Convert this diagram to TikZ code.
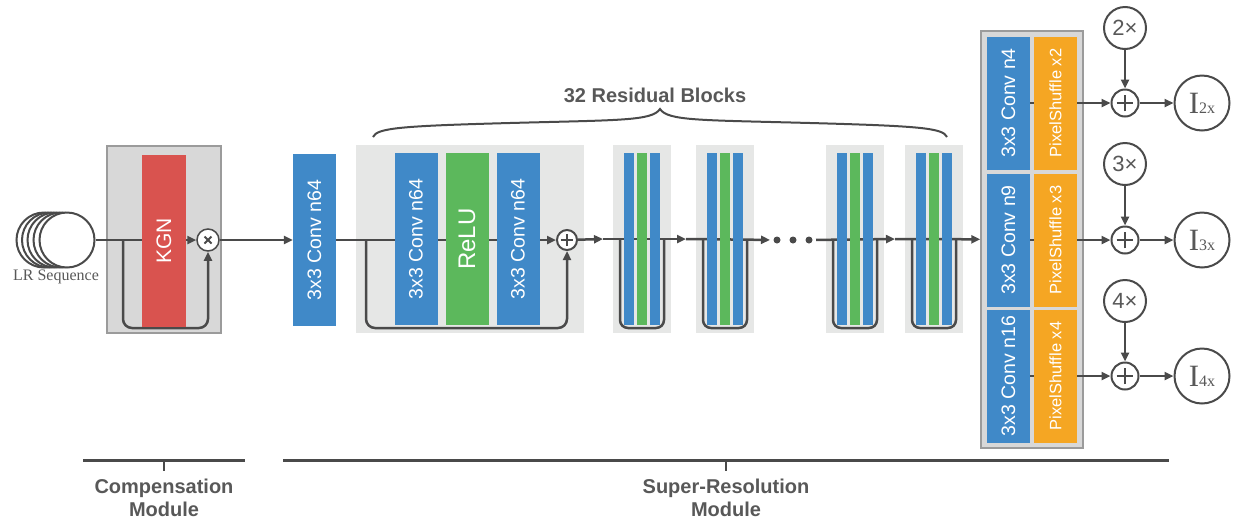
\documentclass[tikz,border=0pt]{standalone}
\usepackage{fontspec}
\setmainfont{Liberation Sans}
\newfontfamily\serifface{Liberation Serif}
\usetikzlibrary{arrows.meta}

\pgfdeclarelayer{bg}
\pgfdeclarelayer{wires}
\pgfsetlayers{bg,wires,main}

\definecolor{convblue}{RGB}{64,137,200}
\definecolor{relugreen}{RGB}{92,184,92}
\definecolor{kgnred}{RGB}{217,83,79}
\definecolor{shuforange}{RGB}{245,166,35}
\definecolor{resgray}{RGB}{230,231,230}
\definecolor{modgray}{RGB}{216,216,216}
\definecolor{modedge}{RGB}{155,155,155}
\definecolor{wire}{RGB}{74,74,74}
\definecolor{labelgray}{RGB}{88,88,88}

\tikzset{
  bar/.style={rectangle, inner sep=0pt, minimum width=172pt, minimum height=43pt,
    rotate=90, text=white, font=\fontsize{19.5}{21}\selectfont},
  conv/.style={bar, fill=convblue},
  relu/.style={bar, fill=relugreen, font=\fontsize{24}{26}\selectfont},
  kgn/.style={bar, fill=kgnred, minimum height=44pt, font=\fontsize{21}{22}\selectfont},
  upconv/.style={bar, fill=convblue, minimum width=133pt},
  shuffle/.style={bar, fill=shuforange, minimum width=133pt, font=\fontsize{16.5}{18}\selectfont},
  strip/.style={rectangle, inner sep=0pt, minimum width=10pt, minimum height=172pt},
  resbox/.style={rectangle, fill=resgray, inner sep=0pt, minimum height=188pt, outer xsep=10pt},
  modbox/.style={rectangle, fill=modgray, draw=modedge, line width=1.5pt, inner sep=0pt},
  seqc/.style={circle, draw=wire, fill=white, line width=2pt, minimum size=55pt, inner sep=0pt},
  opc/.style={circle, draw=wire, fill=white, line width=2pt, inner sep=0pt},
  addc/.style={opc, minimum size=2*#1, path picture={
    \draw[wire, line width=2pt]
      ([xshift=-0.62*#1]path picture bounding box.center) -- ([xshift=0.62*#1]path picture bounding box.center)
      ([yshift=-0.62*#1]path picture bounding box.center) -- ([yshift=0.62*#1]path picture bounding box.center);}},
  mulc/.style={opc, minimum size=22pt, line width=1.5pt, path picture={
    \draw[wire, line width=2pt]
      ([shift={(-3.5pt,-3.5pt)}]path picture bounding box.center) -- ([shift={(3.5pt,3.5pt)}]path picture bounding box.center)
      ([shift={(-3.5pt,3.5pt)}]path picture bounding box.center) -- ([shift={(3.5pt,-3.5pt)}]path picture bounding box.center);}},
  scalec/.style={opc, minimum size=42pt, text=labelgray, font=\fontsize{22}{22}\selectfont},
  outc/.style={opc, minimum size=55pt, text=labelgray},
  dot/.style={circle, fill=wire, inner sep=0pt, minimum size=7pt, outer sep=3.5pt},
  line/.style={draw=wire, line width=2.5pt},
  arr/.style={line, -{Triangle[length=9pt,width=8pt]}},
  modlabel/.style={text=labelgray, align=center, font=\bfseries\fontsize{20}{23}\selectfont},
}

\begin{document}
\begin{tikzpicture}[x=1pt, y=-1pt]
\useasboundingbox (0,0) rectangle (1236,523);

% backgrounds
\begin{pgfonlayer}{bg}
\node[modbox, minimum width=114pt, minimum height=187pt] (comp) at (164,239.5) {};
\node[resbox, minimum width=228pt] (rb) at (470,239) {};
\node[resbox, minimum width=58pt] (rA) at (642,239) {};
\node[resbox, minimum width=58pt] (rB) at (725,239) {};
\node[resbox, minimum width=58pt] (rC) at (855,239) {};
\node[resbox, minimum width=58pt] (rD) at (934,239) {};
\node[modbox, minimum width=102pt, minimum height=417pt] (up) at (1032,239.5) {};
\end{pgfonlayer}

% LR sequence
\node[seqc] (lr4) at (44,240) {};
\node[seqc] (lr3) at (49.5,240) {};
\node[seqc] (lr2) at (55,240) {};
\node[seqc] (lr1) at (61,240) {};
\node[seqc] (lr) at (67,240) {};
\node[text=labelgray, font=\serifface\fontsize{16}{16}\selectfont] (lrtext) at (56,277) {LR Sequence};

% compensation module
\node[kgn] (kgn) at (164,241) {KGN};
\node[mulc] (mul) at (208,240) {};
\coordinate (split0) at (123,240);
\coordinate (loop0) at (165,328);

% first conv and residual block
\node[conv] (c0) at (314.5,240) {3x3 Conv n64};
\node[conv] (c1) at (416,239) {3x3 Conv n64};
\node[relu] (relu) at (467,239) {ReLU};
\node[conv] (c2) at (518,239) {3x3 Conv n64};
\node[addc=10pt] (pl) at (567,240) {};
\coordinate (split1) at (366,240);
\coordinate (loop1) at (466,328);

% small residual blocks
\node[strip, fill=convblue] (a1) at (629,239) {};
\node[strip, fill=relugreen] (a2) at (642,239) {};
\node[strip, fill=convblue] (a3) at (655,239) {};
\coordinate (aL) at (620,240);
\coordinate (aB) at (664,328);

\node[strip, fill=convblue] (b1) at (712,239) {};
\node[strip, fill=relugreen] (b2) at (725,239) {};
\node[strip, fill=convblue] (b3) at (738,239) {};
\coordinate (bL) at (703,240);
\coordinate (bB) at (747,328);

\node[dot] (d1) at (777,240) {};
\node[dot] (d2) at (793,240) {};
\node[dot] (d3) at (809,240) {};

\node[strip, fill=convblue] (cc1) at (842,239) {};
\node[strip, fill=relugreen] (cc2) at (855,239) {};
\node[strip, fill=convblue] (cc3) at (868,239) {};
\coordinate (cL) at (833,240);
\coordinate (cB) at (877,328);

\node[strip, fill=convblue] (e1) at (921,239) {};
\node[strip, fill=relugreen] (e2) at (934,239) {};
\node[strip, fill=convblue] (e3) at (947,239) {};
\coordinate (dL) at (912,240);
\coordinate (dB) at (956,328);

% upsampling
\node[upconv] (u1) at (1008.5,103) {3x3 Conv n4};
\node[upconv] (u2) at (1008.5,240) {3x3 Conv n9};
\node[upconv] (u3) at (1008.5,376) {3x3 Conv n16};
\node[shuffle] (ps1) at (1055.5,103) {PixelShuffle x2};
\node[shuffle] (ps2) at (1055.5,240) {PixelShuffle x3};
\node[shuffle] (ps3) at (1055.5,376) {PixelShuffle x4};

\node[addc=13.5pt] (p1) at (1125,103) {};
\node[addc=13.5pt] (p2) at (1125,240) {};
\node[addc=13.5pt] (p3) at (1125,376) {};
\node[scalec] (m1) at (1125,28) {2×};
\node[scalec] (m2) at (1125,164) {3×};
\node[scalec] (m3) at (1125,301) {4×};
\node[outc] (o1) at (1202,103) {\serifface\fontsize{31}{31}\selectfont I{\fontsize{16}{16}\selectfont 2x}};
\node[outc] (o2) at (1202,240) {\serifface\fontsize{31}{31}\selectfont I{\fontsize{16}{16}\selectfont 3x}};
\node[outc] (o3) at (1202,376) {\serifface\fontsize{31}{31}\selectfont I{\fontsize{16}{16}\selectfont 4x}};

% connectors
\begin{pgfonlayer}{wires}
\draw[arr] (lr) -- (mul);
\draw[arr, rounded corners=9pt] (split0) |- (loop0) -| (mul);
\draw[arr] (mul) -- (c0);
\draw[arr] (c0) -- (pl);
\draw[arr, rounded corners=9pt] (split1) |- (loop1) -| (pl);
\draw[arr] (pl) -- (rA.west);
\draw[arr] (rA.west) -- (rB.west);
\draw[arr] (rB.west) -- (d1);
\draw[arr] (d3) -- (rD.west);
\draw[arr] (rD.west) -- (up);
\draw[line, rounded corners=8pt] (aL) |- (aB) -- (aB |- aL);
\draw[line, rounded corners=8pt] (bL) |- (bB) -- (bB |- bL);
\draw[line, rounded corners=8pt] (cL) |- (cB) -- (cB |- cL);
\draw[line, rounded corners=8pt] (dL) |- (dB) -- (dB |- dL);
\draw[arr] (u1) -- (p1);
\draw[arr] (u2) -- (p2);
\draw[arr] (u3) -- (p3);
\end{pgfonlayer}
\draw[arr] (m1) -- (p1);
\draw[arr] (m2) -- (p2);
\draw[arr] (m3) -- (p3);
\draw[arr] (p1) -- (o1);
\draw[arr] (p2) -- (o2);
\draw[arr] (p3) -- (o3);

% brace
\draw[line, line width=2pt] (373,137) .. controls (377,128) and (400,126) .. (510,123)
  .. controls (620,120) and (652,121) .. (660,109)
  .. controls (668,121) and (700,120) .. (810,123)
  .. controls (920,126) and (943,128) .. (947,137);
\node[modlabel] (nres) at (655,95) {32 Residual Blocks};

% module labels
\draw[line, line width=3pt] (83,460) -- (245,460);
\draw[line, line width=2pt] (164,460) -- (164,471);
\draw[line, line width=3pt] (283,460) -- (1169,460);
\draw[line, line width=2pt] (726,460) -- (726,471);
\node[modlabel] (compl) at (164,498) {Compensation\\Module};
\node[modlabel] (srl) at (726,498) {Super-Resolution\\Module};
\end{tikzpicture}
\end{document}
